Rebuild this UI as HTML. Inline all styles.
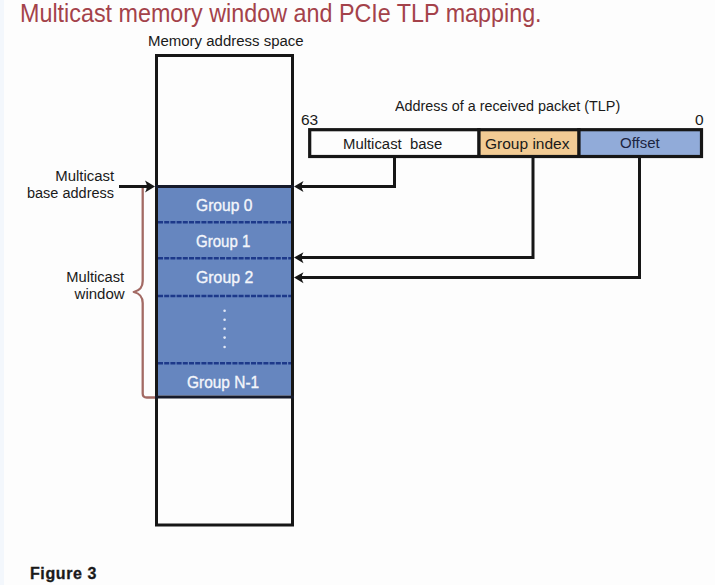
<!DOCTYPE html>
<html>
<head>
<meta charset="utf-8">
<style>
html,body{margin:0;padding:0;}
body{width:715px;height:585px;background:#fdfdfd;position:relative;overflow:hidden;font-family:"Liberation Sans",sans-serif;}
svg{position:absolute;left:0;top:0;}
.t{position:absolute;white-space:pre;line-height:1;color:#1a1a1a;font-size:15.5px;}
.g{font-size:16.5px;-webkit-text-stroke:0.35px #f4f6fb;}
.title{color:#a4424a;font-size:25px;}
.w{color:#f4f6fb;}
.b{font-weight:bold;}
</style>
</head>
<body>
<svg width="715" height="585" viewBox="0 0 715 585">
  <rect x="0" y="0" width="4" height="585" fill="#f3f7fc"/>
  <!-- memory box -->
  <rect x="156.5" y="55.5" width="136" height="469.5" fill="#fdfdfd" stroke="#161616" stroke-width="3"/>
  <rect x="158" y="188" width="133" height="207.5" fill="#6686bf"/>
  <line x1="155" y1="186.5" x2="294" y2="186.5" stroke="#161a2a" stroke-width="3"/>
  <line x1="155" y1="397" x2="294" y2="397" stroke="#161a2a" stroke-width="3"/>
  <g stroke="#1d398a" stroke-width="2.6" stroke-dasharray="5 1.2">
    <line x1="158" y1="222.3" x2="291" y2="222.3"/>
    <line x1="158" y1="258.3" x2="291" y2="258.3"/>
    <line x1="158" y1="296" x2="291" y2="296"/>
    <line x1="158" y1="363.3" x2="291" y2="363.3"/>
  </g>
  <g fill="#e2e8f6">
    <circle cx="224.6" cy="310.8" r="1.3"/>
    <circle cx="224.6" cy="319.7" r="1.3"/>
    <circle cx="224.6" cy="328.7" r="1.3"/>
    <circle cx="224.6" cy="337.6" r="1.3"/>
    <circle cx="224.6" cy="347" r="1.3"/>
  </g>
  <!-- TLP box -->
  <rect x="311" y="131" width="167" height="25" fill="#fdfdfd"/>
  <rect x="479" y="131" width="99" height="25" fill="#f2cb94"/>
  <rect x="579" y="131" width="122" height="25" fill="#91abd9"/>
  <rect x="309.7" y="129.7" width="391.8" height="26.8" fill="none" stroke="#161616" stroke-width="3.2"/>
  <line x1="478.9" y1="128" x2="478.9" y2="158" stroke="#161616" stroke-width="3.4"/>
  <line x1="578.9" y1="128" x2="578.9" y2="158" stroke="#161616" stroke-width="3.4"/>
  <!-- connector lines -->
  <g fill="none" stroke="#161616" stroke-width="3" stroke-linejoin="miter" stroke-linecap="butt">
    <polyline points="394.5,157 394.5,186.5 300,186.5"/>
    <polyline points="533,157 533,257.5 300,257.5"/>
    <polyline points="639.5,157 639.5,277.5 300,277.5"/>
    <line x1="119" y1="186.5" x2="149" y2="186.5"/>
  </g>
  <!-- arrowheads -->
  <g fill="#161616">
    <path d="M294,186.5 L303.5,181 Q300,186.5 303.5,192 Z"/>
    <path d="M294,257.5 L303.5,252.2 Q300,257.5 303.5,263.2 Z"/>
    <path d="M294,277.5 L303.5,272.2 Q300,277.5 303.5,283.2 Z"/>
    <path d="M155,186.5 L145,180.5 Q148.5,186.5 145,192.5 Z"/>
  </g>
  <!-- brace -->
  <path d="M142.7,188 V281 C142.7,288 139.5,290.5 133.8,292 C139.5,293.5 142.7,296 142.7,303 V393.5 Q142.7,397.5 146.7,397.5 H155" fill="none" stroke="#a36a64" stroke-width="2.3" stroke-linejoin="round"/>
</svg>

<div class="t title" style="left:19.5px;top:1px;transform:scaleX(0.933);transform-origin:0 0;">Multicast memory window and PCIe TLP mapping.</div>
<div class="t" style="left:148px;top:32.5px;transform:scaleX(0.966);transform-origin:0 0;">Memory address space</div>
<div class="t" style="left:395.4px;top:98px;transform:scaleX(0.927);transform-origin:0 0;">Address of a received packet (TLP)</div>
<div class="t" style="left:301px;top:112px;">63</div>
<div class="t" style="left:695px;top:112px;">0</div>
<div class="t" style="left:343px;top:135.5px;transform:scaleX(0.96);transform-origin:0 0;">Multicast  base</div>
<div class="t" style="left:485px;top:135.5px;">Group index</div>
<div class="t" style="left:620px;top:135px;color:#1c2440;transform:scaleX(0.968);transform-origin:0 0;">Offset</div>

<div class="t" style="right:601px;top:168px;text-align:right;transform:scaleX(0.963);transform-origin:100% 0;">Multicast</div>
<div class="t" style="right:600.5px;top:185px;text-align:right;transform:scaleX(0.936);transform-origin:100% 0;">base address</div>
<div class="t" style="right:590.5px;top:269px;text-align:right;transform:scaleX(0.947);transform-origin:100% 0;">Multicast</div>
<div class="t" style="right:590px;top:286px;text-align:right;transform:scaleX(0.97);transform-origin:100% 0;">window</div>

<div class="t w g" style="left:196.3px;top:196.8px;transform:scaleX(0.945);transform-origin:0 0;">Group 0</div>
<div class="t w g" style="left:196.2px;top:233.3px;transform:scaleX(0.911);transform-origin:0 0;">Group 1</div>
<div class="t w g" style="left:196.2px;top:269.3px;transform:scaleX(0.96);transform-origin:0 0;">Group 2</div>
<div class="t w g" style="left:187px;top:373.8px;transform:scaleX(0.937);transform-origin:0 0;">Group N-1</div>

<div class="t b" style="left:30px;top:565.5px;font-size:16px;letter-spacing:0.6px;-webkit-text-stroke:0.3px #1a1a1a;">Figure 3</div>
</body>
</html>
